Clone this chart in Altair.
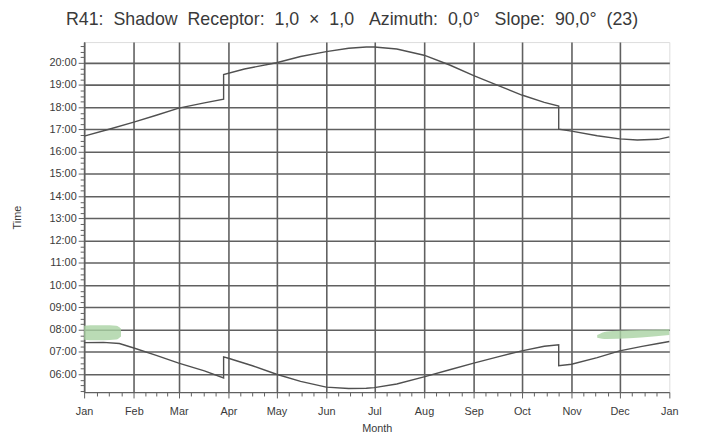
import altair as alt
import pandas as pd

# ---- data ----
month_labels = ["Jan", "Feb", "Mar", "Apr", "May", "Jun", "Jul", "Aug", "Sep", "Oct", "Nov", "Dec", "Jan"]
month_starts = [0, 31, 59, 90, 120, 151, 181, 212, 243, 273, 304, 334, 365]

# upper curve (day of year, hours)
sunset_day = [0, 15, 31, 45, 59, 75, 87, 87, 100, 120, 135, 151, 165, 176, 181, 195, 212, 228,
              243, 258, 273, 287, 296, 296, 304, 320, 334, 345, 358, 365]
sunset_time = [16.70, 17.00, 17.33, 17.64, 17.96, 18.20, 18.36, 19.47, 19.72, 20.00, 20.28, 20.50,
               20.65, 20.71, 20.71, 20.62, 20.34, 19.90, 19.42, 18.98, 18.55, 18.22, 18.05, 17.02,
               16.93, 16.72, 16.58, 16.53, 16.56, 16.67]

# lower curve
sunrise_day = [0, 12, 22, 31, 45, 59, 75, 87, 87, 90, 105, 120, 135, 151, 165, 176, 181, 195, 212,
               228, 243, 258, 273, 287, 296, 296, 304, 320, 334, 348, 358, 365]
sunrise_time = [7.42, 7.43, 7.38, 7.18, 6.85, 6.50, 6.15, 5.83, 6.78, 6.72, 6.38, 6.00, 5.68, 5.42,
                5.36, 5.37, 5.40, 5.56, 5.88, 6.20, 6.50, 6.78, 7.05, 7.26, 7.32, 6.38, 6.45, 6.75,
                7.05, 7.25, 7.38, 7.47]

# shadow (green) periods
shadow_jan_day = [0, 4, 12, 20, 23]
shadow_jan_top = [8.18, 8.20, 8.20, 8.18, 8.05]
shadow_jan_bottom = [7.55, 7.53, 7.53, 7.56, 7.70]
shadow_dec_day = [320, 326, 340, 355, 365]
shadow_dec_top = [7.76, 7.92, 7.98, 8.00, 8.02]
shadow_dec_bottom = [7.64, 7.58, 7.62, 7.70, 7.76]

# ---- tables ----
lines = pd.concat([
    pd.DataFrame({"day": sunset_day, "time": sunset_time, "series": "sunset",
                  "idx": range(len(sunset_day))}),
    pd.DataFrame({"day": sunrise_day, "time": sunrise_time, "series": "sunrise",
                  "idx": range(len(sunrise_day))}),
], ignore_index=True)

shadow = pd.concat([
    pd.DataFrame({"day": shadow_jan_day, "time": shadow_jan_top, "time2": shadow_jan_bottom, "grp": "jan"}),
    pd.DataFrame({"day": shadow_dec_day, "time": shadow_dec_top, "time2": shadow_dec_bottom, "grp": "dec"}),
], ignore_index=True)

# ---- axes ----
FONT = "Liberation Sans"
GRID = "#606060"
TXT = "#3a3a3a"

x_ticks = []
for a, b in zip(month_starts[:-1], month_starts[1:]):
    x_ticks += [a, a + (b - a) / 4, a + (b - a) / 2, a + 3 * (b - a) / 4]
x_ticks.append(month_starts[-1])

ms = "[" + ",".join(str(m) for m in month_starts) + "]"
ml = "[" + ",".join("'" + m + "'" for m in month_labels) + "]"
is_major_x = f"indexof({ms}, datum.value) >= 0"

x_axis = alt.Axis(
    values=x_ticks,
    labelExpr=f"{is_major_x} ? {ml}[indexof({ms}, datum.value)] : ''",
    grid=True,
    gridOpacity={"condition": {"test": f"{is_major_x} && datum.value < 365", "value": 1}, "value": 0},
    gridColor=GRID, gridWidth=1.6,
    tickSize={"condition": {"test": is_major_x, "value": 6}, "value": 4},
    tickColor=GRID, domainColor=GRID, domainWidth=1.3,
    labelFont=FONT, labelFontSize=11, labelColor=TXT, labelPadding=8,
    labelFlush=False, labelOverlap=False,
    title="Month", titleFont=FONT, titleFontSize=11, titleFontWeight="normal",
    titleColor=TXT, titlePadding=6,
)

y_ticks = [5.25 + 0.25 * i for i in range(63)]
is_major_y = "datum.value % 1 === 0"
y_axis = alt.Axis(
    values=y_ticks,
    labelExpr=f"{is_major_y} ? (datum.value < 10 ? '0' : '') + datum.value + ':00' : ''",
    grid=True,
    gridOpacity={"condition": {"test": is_major_y, "value": 1}, "value": 0},
    gridColor=GRID, gridWidth=1.6,
    tickSize={"condition": {"test": is_major_y, "value": 6}, "value": 4},
    tickColor=GRID, domainColor=GRID, domainWidth=1.3,
    labelFont=FONT, labelFontSize=11, labelColor=TXT, labelPadding=2,
    labelOverlap=False, labelFlush=False,
    title="Time", titleFont=FONT, titleFontSize=11, titleFontWeight="normal",
    titleColor=TXT, titleX=-62,
)

X = alt.X("day:Q", scale=alt.Scale(domain=[0, 365], nice=False, zero=False), axis=x_axis)
Y = alt.Y("time:Q", scale=alt.Scale(domain=[5.2, 20.93], nice=False, zero=False), axis=y_axis)

area = alt.Chart(shadow).mark_area(color="#a9d2a2", opacity=0.8, interpolate="monotone").encode(
    x=X, y=Y, y2="time2:Q", detail="grp:N"
)

line = alt.Chart(lines).mark_line(color="#505050", strokeWidth=1.4).encode(
    x=X, y=Y, detail="series:N", order=alt.Order("idx:Q")
)

S2 = " \u00a0"
S3 = " \u00a0\u00a0"
title_text = ("R41:" + S2 + "Shadow" + S2 + "Receptor:" + S2 + "1,0" + S2 + "×" + S2 + "1,0"
              + S3 + "Azimuth:" + S2 + "0,0°" + S3 + "Slope:" + S2 + "90,0°" + S2 + "(23)")

chart = alt.layer(area, line).properties(
    width=592,
    height=354,
    autosize=alt.AutoSizeParams(type="none"),
    padding={"left": 77, "top": 32, "right": 30, "bottom": 42},
    title=alt.TitleParams(
        title_text,
        font=FONT, fontSize=18, fontWeight="normal", color=TXT,
        anchor="middle", offset=11, dx=-25,
    ),
).configure_view(stroke=None).configure(background="white")

chart.save("out.html", embed_options={"renderer": "svg", "actions": False})
